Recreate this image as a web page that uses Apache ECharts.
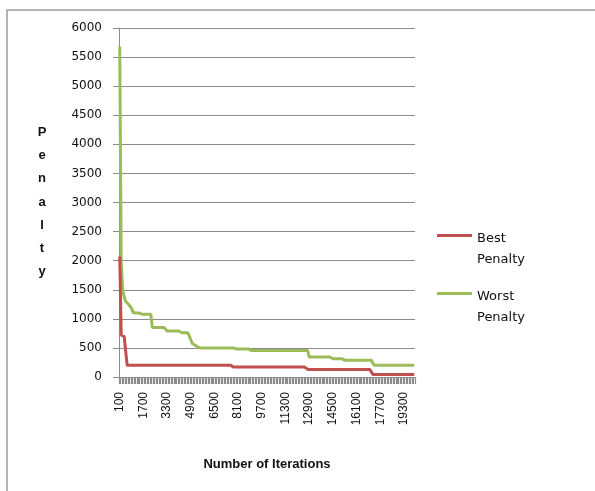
<!DOCTYPE html>
<html>
<head>
<meta charset="utf-8">
<script src="https://cdn.jsdelivr.net/npm/echarts@6/dist/echarts.min.js"></script>
<style>html,body{margin:0;padding:0;background:#fff;}#c{width:595px;height:491px;}</style>
</head>
<body>
<div id="c"></div>
<script>
const categories = [
  100,200,300,400,500,600,700,800,900,1000,
  1100,1200,1300,1400,1500,1600,1700,1800,1900,2000,
  2100,2200,2300,2400,2500,2600,2700,2800,2900,3000,
  3100,3200,3300,3400,3500,3600,3700,3800,3900,4000,
  4100,4200,4300,4400,4500,4600,4700,4800,4900,5000,
  5100,5200,5300,5400,5500,5600,5700,5800,5900,6000,
  6100,6200,6300,6400,6500,6600,6700,6800,6900,7000,
  7100,7200,7300,7400,7500,7600,7700,7800,7900,8000,
  8100,8200,8300,8400,8500,8600,8700,8800,8900,9000,
  9100,9200,9300,9400,9500,9600,9700,9800,9900,10000,
  10100,10200,10300,10400,10500,10600,10700,10800,10900,11000,
  11100,11200,11300,11400,11500,11600,11700,11800,11900,12000,
  12100,12200,12300,12400,12500,12600,12700,12800,12900,13000,
  13100,13200,13300,13400,13500,13600,13700,13800,13900,14000,
  14100,14200,14300,14400,14500,14600,14700,14800,14900,15000,
  15100,15200,15300,15400,15500,15600,15700,15800,15900,16000,
  16100,16200,16300,16400,16500,16600,16700,16800,16900,17000,
  17100,17200,17300,17400,17500,17600,17700,17800,17900,18000,
  18100,18200,18300,18400,18500,18600,18700,18800,18900,19000,
  19100,19200,19300,19400,19500,19600,19700,19800,19900,20000
];

const bestPenalty = [
  2070,720,720,700,700,200,200,200,200,200,200,200,200,200,200,200,200,200,200,200,
  200,200,200,200,200,200,200,200,200,200,200,200,200,200,200,200,200,200,200,200,
  200,200,200,200,200,200,200,200,200,200,200,200,200,200,200,200,200,200,200,200,
  200,200,200,200,200,200,200,200,200,200,200,200,200,200,200,200,170,170,170,170,
  170,170,170,170,170,170,170,170,170,170,170,170,170,170,170,170,170,170,170,170,
  170,170,170,170,170,170,170,170,170,170,170,170,170,170,170,170,170,170,170,170,
  170,170,170,170,170,170,170,130,130,130,130,130,130,130,130,130,130,130,130,130,
  130,130,130,130,130,130,130,130,130,130,130,130,130,130,130,130,130,130,130,130,
  130,130,130,130,130,130,130,130,130,130,130,45,45,45,45,45,45,45,45,45,
  45,45,45,45,45,45,45,45,45,45,45,45,45,45,45,45,45,45,45,45
];

const worstPenalty = [
  5680,1950,1500,1380,1300,1270,1250,1240,1180,1110,1100,1100,1100,1100,1100,1080,1080,1080,1080,1080,
  1080,1080,850,850,850,850,850,850,850,850,850,850,790,790,790,790,790,790,790,790,
  790,760,760,760,760,760,760,700,640,575,555,545,530,510,500,500,500,500,500,500,
  500,500,500,500,500,500,500,500,500,500,500,500,500,500,500,500,500,500,500,480,
  480,480,480,480,480,480,480,480,480,455,455,455,455,455,455,455,455,455,455,455,
  455,455,455,455,455,455,455,455,455,455,455,455,455,455,455,455,455,455,455,455,
  455,455,455,455,455,455,455,455,345,345,345,345,345,345,345,345,345,345,345,345,
  345,345,345,315,315,315,315,315,315,315,315,315,290,290,290,290,290,290,290,290,
  290,290,290,290,290,290,290,290,290,290,290,240,200,200,200,200,200,200,200,200,
  200,200,200,200,200,200,200,200,200,200,200,200,200,200,200,200,200,200,200,200
];

const yTicks = { min: 0, max: 6000, interval: 500 };
const seriesNames = ['Best Penalty', 'Worst Penalty'];
const xTitle = 'Number of Iterations';
const yTitle = 'Penalty';

const chart = echarts.init(document.getElementById('c'), null, { renderer: 'canvas' });
const legendBase = {
  orient: 'vertical', left: 437, padding: 0, itemWidth: 35, itemHeight: 3, icon: 'rect',
  formatter: n => '{e|}\n' + n.split(' ').map(w => '{t|' + w + '}').join('\n'),
  textStyle: {
    fontFamily: 'DejaVu Sans', fontSize: 13, color: '#111',
    rich: {
      e: { lineHeight: 27, fontSize: 13, fontFamily: 'DejaVu Sans' },
      t: { lineHeight: 21, fontSize: 13, fontFamily: 'DejaVu Sans', color: '#111' }
    }
  }
};
chart.setOption({
  animation: false,
  backgroundColor: '#fff',
  grid: { left: 119, right: 180, top: 28, bottom: 114, containLabel: false },
  legend: [
    Object.assign({}, legendBase, { data: [seriesNames[0]], top: 208 }),
    Object.assign({}, legendBase, { data: [seriesNames[1]], top: 266 })
  ],
  graphic: [
    { type: 'rect', shape: { x: 7, y: 10, width: 700, height: 600 }, style: { fill: 'none', stroke: '#b4b4b4', lineWidth: 2 }, silent: true },
    { type: 'text', x: 42, y: 202, style: { text: yTitle.split('').join('\n'), fontFamily: 'Liberation Sans', fontWeight: 'bold', fontSize: 13, lineHeight: 23.3, fill: '#111', align: 'center', verticalAlign: 'middle' }, silent: true }
  ],
  xAxis: {
    type: 'category',
    data: categories,
    boundaryGap: true,
    name: xTitle,
    nameLocation: 'middle',
    nameGap: 81,
    nameTextStyle: { fontFamily: 'Liberation Sans', fontWeight: 'bold', fontSize: 13, color: '#111' },
    axisLine: { lineStyle: { color: '#8c8c8c', width: 1 } },
    axisTick: { show: true, interval: 0, length: 7, lineStyle: { color: '#8c8c8c', width: 1.2 } },
    axisLabel: { interval: 15, rotate: 90, margin: 15, fontFamily: 'Liberation Sans', fontSize: 12, color: '#111' },
    splitLine: { show: false }
  },
  yAxis: {
    type: 'value',
    min: yTicks.min, max: yTicks.max, interval: yTicks.interval,
    axisLine: { show: true, lineStyle: { color: '#8c8c8c', width: 1 } },
    axisTick: { show: true, length: 6, lineStyle: { color: '#8c8c8c' } },
    axisLabel: { margin: 17, fontFamily: 'DejaVu Sans', fontSize: 12, color: '#111', formatter: v => String(v) },
    splitLine: { show: true, lineStyle: { color: '#8c8c8c', width: 1 } }
  },
  series: [
    { name: seriesNames[0], type: 'line', data: bestPenalty, symbol: 'none', smooth: false, color: '#C0504D', lineStyle: { width: 3, color: '#C0504D' }, z: 3 },
    { name: seriesNames[1], type: 'line', data: worstPenalty, symbol: 'none', smooth: false, color: '#9BBB59', lineStyle: { width: 3, color: '#9BBB59' }, z: 2 }
  ]
});
</script>
</body>
</html>
